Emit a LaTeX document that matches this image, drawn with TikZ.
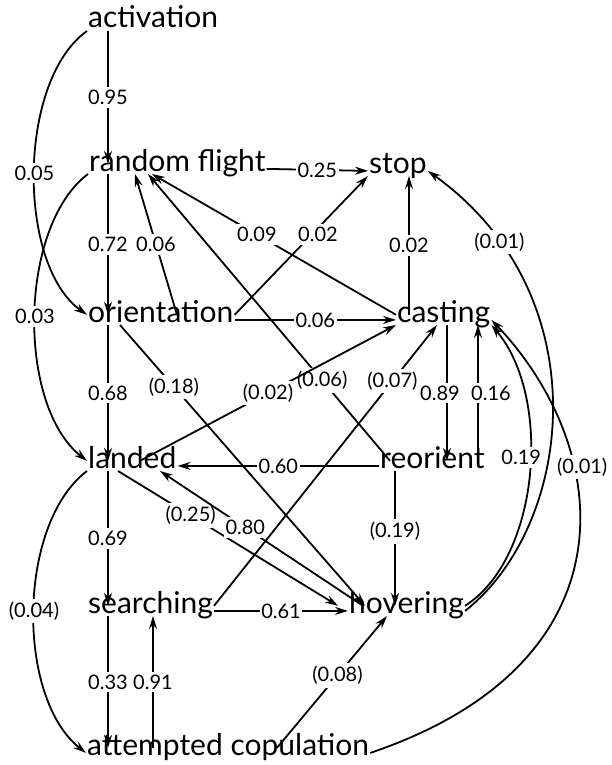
\documentclass[tikz,border=0pt]{standalone}
\usepackage{fontspec}
\setmainfont{Lato}
\usetikzlibrary{arrows.meta}

\begin{document}
\begin{tikzpicture}[
    x=1pt, y=-1pt,
    state/.style={anchor=base west, inner sep=1pt, text height=0.6em, text depth=0.18em, font=\fontsize{30}{34}\selectfont},
    lbl/.style={fill=white, inner xsep=1.5pt, inner ysep=3pt, font=\fontsize{20}{24}\selectfont},
    arr/.style={-{Stealth[length=13pt, width=8pt]}, line width=1.8pt}
]
\useasboundingbox (0,0) rectangle (611,765);
\node[state] (act) at (87,28) {activation};
\node[state] (rf) at (88,171) {random flight};
\node[state] (stop) at (368,173) {stop};
\node[state] (orient) at (87,322) {orientation};
\node[state] (cast) at (396,322) {casting};
\node[state] (landed) at (87,468) {landed};
\node[state] (reor) at (379,468) {reorient};
\node[state] (search) at (87,613) {searching};
\node[state] (hover) at (348,613) {hovering};
\node[state] (cop) at (86,755) {attempted copulation};
% x positions of the vertical links
\foreach \n/\x in {lx/108, rx/153, sx/409, hx/395, cx/447, ox/478}
    \coordinate (\n) at (\x,0);
% left column
\draw[arr] (act.south -| lx) -- node[lbl]{0.95} (rf.north -| lx);
\draw[arr] (rf.south -| lx) -- node[lbl]{0.72} (orient.north -| lx);
\draw[arr] (orient.south -| lx) -- node[lbl]{0.68} (landed.north -| lx);
\draw[arr] (landed.south -| lx) -- node[lbl]{0.69} (search.north -| lx);
\draw[arr] (search.south -| lx) -- node[lbl]{0.33} (cop.north -| lx);
\draw[arr] (cop.north -| rx) -- node[lbl]{0.91} (search.south -| rx);
% outer curves on the left
\draw[arr] (act.south west) .. controls +(-70,50) and +(-70,-50) .. (orient.north west) node[lbl, pos=.5]{0.05};
\draw[arr] (rf.south west) .. controls +(-70,53) and +(-70,-55) .. (landed.north west) node[lbl, pos=.5]{0.03};
\draw[arr] (landed.south west) .. controls +(-70,53) and +(-70,-55) .. (cop.west) node[lbl, pos=.5]{(0.04)};
% horizontal links
\draw[arr] (rf.east) -- node[lbl]{0.25} (stop.west);
\draw[arr] (orient.east) -- node[lbl]{0.06} (cast.west);
\draw[arr] (reor.west) -- node[lbl]{0.60} (landed.east);
\draw[arr] (search.east) -- node[lbl]{0.61} (hover.west);
% right column
\draw[arr] (cast.north -| sx) -- node[lbl]{0.02} (stop.south -| sx);
\draw[arr] (cast.south -| cx) -- node[lbl, xshift=-7pt]{0.89} (reor.north -| cx);
\draw[arr] (reor.north -| ox) -- node[lbl, xshift=13pt]{0.16} (cast.south -| ox);
\draw[arr] (reor.south -| hx) -- node[lbl, pos=.45]{(0.19)} (hover.north -| hx);
% diagonals
\draw[arr] ([xshift=90pt]orient.north west) -- node[lbl]{0.06} ([xshift=47pt]rf.south west);
\draw[arr] (cast.north west) -- node[lbl, pos=.57]{0.09} ([xshift=64pt]rf.south west);
\draw[arr] (orient.north east) -- node[lbl, pos=.58, xshift=6pt]{0.02} (stop.south west);
\draw[arr] ([xshift=11pt]reor.north west) -- node[lbl, pos=.28]{(0.06)} ([xshift=60pt]rf.south west);
\draw[arr] ([xshift=33pt]orient.south west) -- node[lbl, pos=.22]{(0.18)} ([xshift=17pt]hover.north west);
\draw[arr] ([xshift=53pt]landed.north west) -- node[lbl]{(0.02)} (cast.south west);
\draw[arr] (search.north east) -- node[lbl, pos=.8]{(0.07)} ([xshift=41pt]cast.south west);
\draw[arr] ([xshift=31pt]landed.south west) -- node[lbl, pos=.33]{(0.25)} ([xshift=-10pt]hover.north west);
\draw[arr] ([xshift=15pt]hover.north west) -- node[lbl, pos=.58]{0.80} ([xshift=73pt]landed.south west);
\draw[arr] ([xshift=191pt]cop.north west) -- node[lbl, pos=.55]{(0.08)} ([xshift=39pt]hover.south west);
% outer curves on the right
\draw[arr] (hover.east) .. controls +(109,-86) and +(173,124) .. (stop.east) node[lbl, pos=.83]{(0.01)};
\draw[arr] (hover.north east) .. controls +(75,-48) and +(61,72) .. (cast.south east) node[lbl, pos=.55, xshift=-9pt]{0.19};
\draw[arr] (cop.east) .. controls +(269,-91) and +(121,127) .. (cast.east) node[lbl, pos=.67, xshift=9pt]{(0.01)};
\end{tikzpicture}
\end{document}
